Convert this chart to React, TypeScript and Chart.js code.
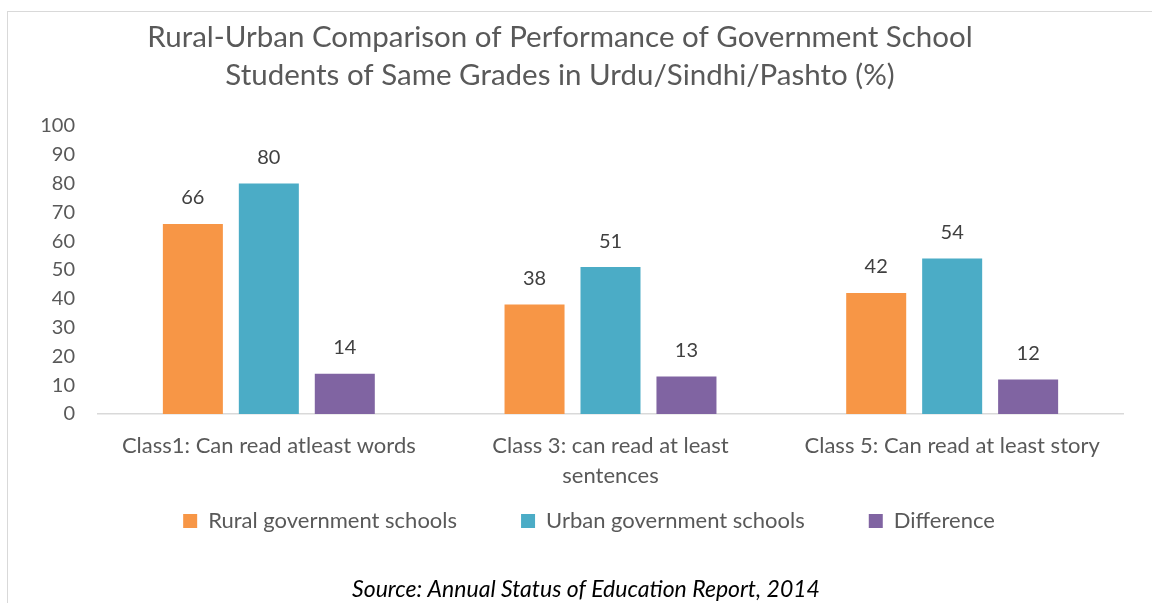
import React, { useEffect, useRef } from "react";
import { Chart, registerables } from "chart.js";

Chart.register(...registerables);

const categories: (string | string[])[] = [
  "Class1: Can read atleast words",
  ["Class 3: can read at least", "sentences"],
  "Class 5: Can read at least story",
];
const ruralValues = [66, 38, 42];
const urbanValues = [80, 51, 54];
const differenceValues = [14, 13, 12];
const titleLines = [
  "Rural-Urban Comparison of Performance of Government School",
  "Students of Same Grades in Urdu/Sindhi/Pashto (%)",
];
const sourceText = "Source: Annual Status of Education Report, 2014";

const FONT = "Lato, 'Open Sans', sans-serif";

const valueLabels = {
  id: "valueLabels",
  afterDatasetsDraw(chart: any) {
    const ctx = chart.ctx;
    ctx.save();
    ctx.font = `20px ${FONT}`;
    ctx.fillStyle = "#404040";
    ctx.textAlign = "center";
    ctx.textBaseline = "middle";
    chart.data.datasets.forEach((ds: any, i: number) => {
      const meta = chart.getDatasetMeta(i);
      meta.data.forEach((el: any, j: number) => {
        ctx.fillText(String(ds.data[j]), el.x, el.y - 26);
      });
    });
    ctx.restore();
  },
};

const titleAndSource = {
  id: "titleAndSource",
  afterDraw(chart: any) {
    const ctx = chart.ctx;
    ctx.save();
    ctx.textAlign = "center";
    ctx.textBaseline = "middle";
    ctx.fillStyle = "#595959";
    ctx.font = `29.5px ${FONT}`;
    ctx.fillText(titleLines[0], 560, 37);
    ctx.fillText(titleLines[1], 560, 75);
    ctx.fillStyle = "#000000";
    ctx.font = `italic 23px ${FONT}`;
    ctx.fillText(sourceText, 586, 590);
    ctx.restore();
  },
};

const legendPlacement = {
  id: "legendPlacement",
  afterLayout(chart: any) {
    const lg = chart.legend;
    if (!lg) return;
    const w = lg.right - lg.left;
    const h = lg.bottom - lg.top;
    const centerX = 589;
    lg.left = centerX - w / 2;
    lg.right = centerX + w / 2;
    lg.top = 521 - 64 - 11;
    lg.bottom = lg.top + h;
  },
};

export default function App() {
  const ref = useRef<HTMLCanvasElement | null>(null);

  useEffect(() => {
    if (!ref.current) return;
    const chart = new Chart(ref.current, {
      type: "bar",
      data: {
        labels: categories,
        datasets: [
          {
            label: "Rural government schools",
            data: ruralValues,
            backgroundColor: "#F79646",
            barPercentage: 0.79,
            categoryPercentage: 0.667,
          },
          {
            label: "Urban government schools",
            data: urbanValues,
            backgroundColor: "#4BACC6",
            barPercentage: 0.79,
            categoryPercentage: 0.667,
          },
          {
            label: "Difference",
            data: differenceValues,
            backgroundColor: "#8064A2",
            barPercentage: 0.79,
            categoryPercentage: 0.667,
          },
        ],
      },
      options: {
        responsive: false,
        animation: false,
        devicePixelRatio: 1,
        layout: { padding: { left: 0, right: 29, top: 126, bottom: 3 } },
        scales: {
          x: {
            grid: { display: false, drawTicks: false },
            border: { display: true, color: "#d9d9d9", width: 1.5 },
            ticks: {
              color: "#595959",
              font: { family: FONT, size: 22, lineHeight: "30px" },
              padding: 17,
              maxRotation: 0,
              autoSkip: false,
            },
            afterFit(scale: any) {
              scale.height = 90;
            },
          },
          y: {
            min: 0,
            max: 100,
            grid: { display: false, drawTicks: false },
            border: { display: false },
            ticks: {
              stepSize: 10,
              color: "#595959",
              font: { family: FONT, size: 20 },
              padding: 23,
            },
            afterFit(scale: any) {
              scale.width = 98;
            },
          },
        },
        plugins: {
          legend: {
            position: "bottom",
            labels: {
              color: "#595959",
              font: { family: FONT, size: 22 },
              boxWidth: 14,
              boxHeight: 14,
              padding: 64,
            },
          },
          title: { display: false },
          tooltip: { enabled: false },
        },
      },
      plugins: [valueLabels, titleAndSource, legendPlacement],
    });
    return () => chart.destroy();
  }, []);

  return (
    <div style={{ position: "absolute", left: 0, top: 0, width: 1152, height: 603, overflow: "hidden", background: "#fff" }}>
      <div
        style={{
          position: "absolute",
          left: 7,
          top: 11,
          width: 1160,
          height: 620,
          borderLeft: "1px solid #d9d9d9",
          borderTop: "1px solid #d9d9d9",
        }}
      />
      <canvas ref={ref} width={1152} height={603} style={{ position: "absolute", left: 0, top: 0 }} />
    </div>
  );
}
